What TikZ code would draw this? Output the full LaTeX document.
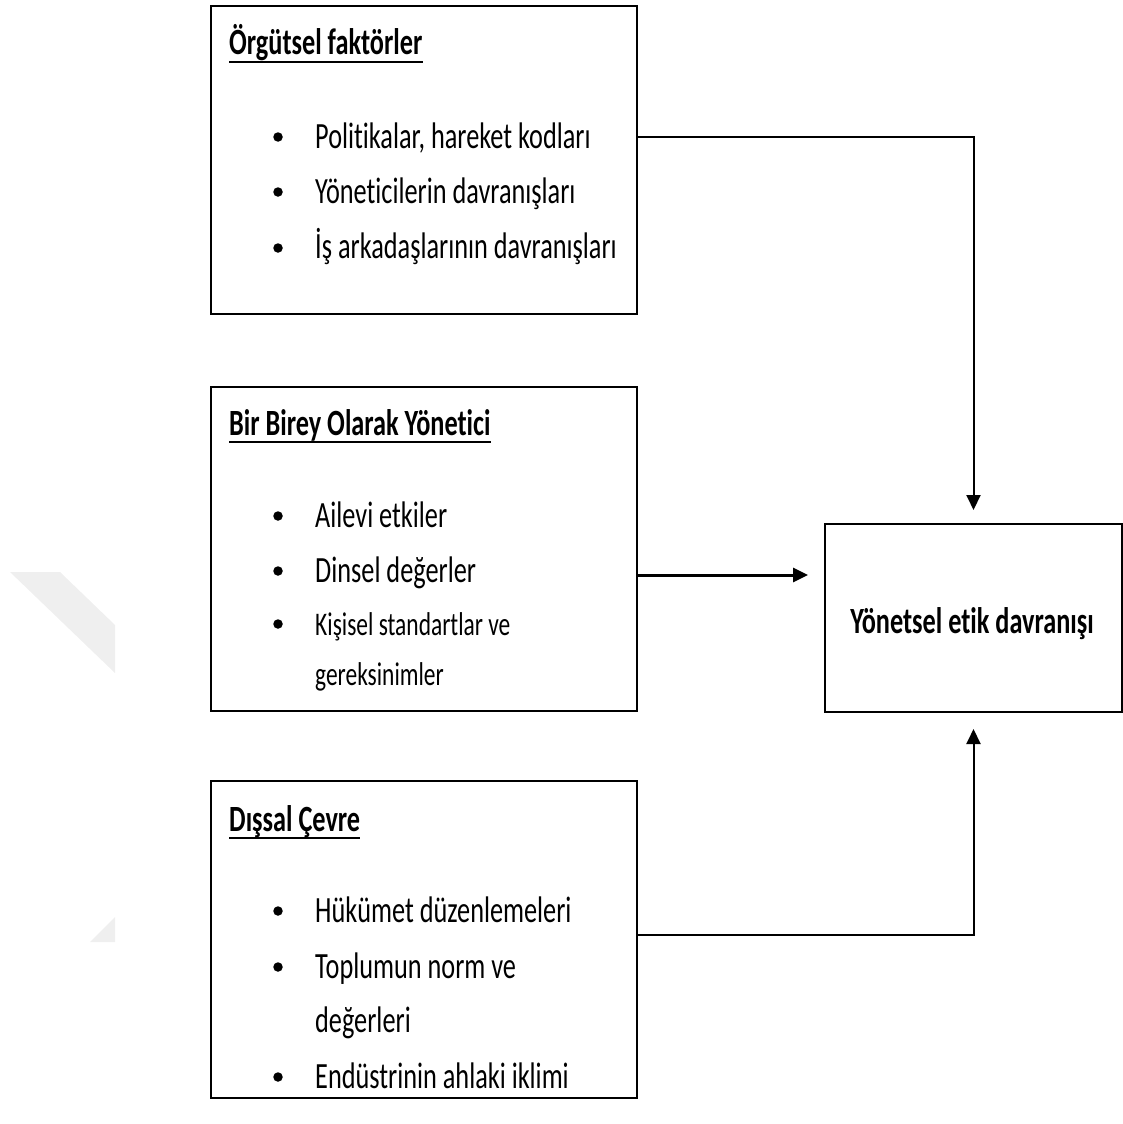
\documentclass[tikz,border=0pt]{standalone}
\usepackage{fontspec}
\setmainfont{Carlito}[FakeStretch=0.71, Ligatures=NoCommon]
\usetikzlibrary{arrows.meta}
\definecolor{filigran}{HTML}{EFEFEF}

\begin{document}
\begin{tikzpicture}[x=1pt, y=-1pt, >={Triangle[width=14pt,length=15pt]},
    kutu/.style={draw, line width=2pt, inner sep=0pt, anchor=north west},
    madde/.style={anchor=base west, inner sep=0pt, font=\fontsize{37}{44}\selectfont},
    kmadde/.style={madde, font=\fontsize{33}{40}\selectfont},
    baslik/.style={madde, font=\fontsize{37}{44}\selectfont\bfseries},
    nokta/.style={circle, fill, inner sep=0pt, minimum size=9.5pt},
    ok/.style={->, line width=2pt}]
    \useasboundingbox (0,0) rectangle (1123,1124);

    % 1. soluk filigran parcalari (solda)
    \fill[filigran] (10,572) -- (60,572) -- (115,625) -- (115,673) -- cycle;
    \fill[filigran] (90,942) -- (115,917) -- (115,942) -- cycle;

    % 2. kutular
    \node[kutu, minimum width=426pt, minimum height=308pt] (orgut) at (210,5) {};
    \node[kutu, minimum width=426pt, minimum height=324pt] (birey) at (210,386) {};
    \node[kutu, minimum width=426pt, minimum height=317pt] (cevre) at (210,780) {};
    \node[kutu, minimum width=297pt, minimum height=188pt] (etik) at (824,523) {};

    % 3. Orgutsel faktorler
    \node[baslik] (h1) at (229,55) {Örgütsel faktörler};
    \draw[line width=2pt] ([yshift=-7pt]h1.base west) -- ([yshift=-7pt]h1.base east);
    \node[nokta] (n11) at (278,137) {};
    \node[nokta] (n12) at (278,192) {};
    \node[nokta] (n13) at (278,248) {};
    \node[madde] (m11) at (315,148) {Politikalar, hareket kodları};
    \node[madde] (m12) at (315,203) {Yöneticilerin davranışları};
    \node[madde] (m13) at (315,258) {İş arkadaşlarının davranışları};

    % 4. Bir birey olarak yonetici
    \node[baslik] (h2) at (229,435) {Bir Birey Olarak Yönetici};
    \draw[line width=2pt] ([yshift=-7pt]h2.base west) -- ([yshift=-7pt]h2.base east);
    \node[nokta] (n21) at (278,516) {};
    \node[nokta] (n22) at (278,571) {};
    \node[nokta] (n23) at (278,624) {};
    \node[madde] (m21) at (315,527) {Ailevi etkiler};
    \node[madde] (m22) at (315,582) {Dinsel değerler};
    \node[kmadde] (m23) at (315,635) {Kişisel standartlar ve};
    \node[kmadde] (m24) at (315,685) {gereksinimler};

    % 5. Dissal cevre
    \node[baslik] (h3) at (229,831) {Dışsal Çevre};
    \draw[line width=2pt] ([yshift=-7pt]h3.base west) -- ([yshift=-7pt]h3.base east);
    \node[nokta] (n31) at (278,911) {};
    \node[nokta] (n32) at (278,967) {};
    \node[nokta] (n33) at (278,1077) {};
    \node[madde] (m31) at (315,922) {Hükümet düzenlemeleri};
    \node[madde] (m32) at (315,978) {Toplumun norm ve};
    \node[madde] (m33) at (315,1032) {değerleri};
    \node[madde] (m34) at (315,1088) {Endüstrinin ahlaki iklimi};

    % 6. sonuc kutusu
    \node[font=\fontsize{37}{44}\selectfont\bfseries, anchor=base, inner sep=0pt]
          (etikyazi) at (972,633) {Yönetsel etik davranışı};

    % 7. oklar
    \coordinate (c1) at (orgut.east |- 0,137);
    \coordinate (c2) at (birey.east |- 0,575);
    \coordinate (c3) at (cevre.east |- 0,935);
    \draw[ok, shorten >=13pt] (c1) -| (etik.north);
    \draw[ok, line width=3pt, shorten >=16pt] (c2) -- (c2 -| etik.west);
    \draw[ok, shorten >=16pt] (c3) -| (etik.south);

\end{tikzpicture}
\end{document}
